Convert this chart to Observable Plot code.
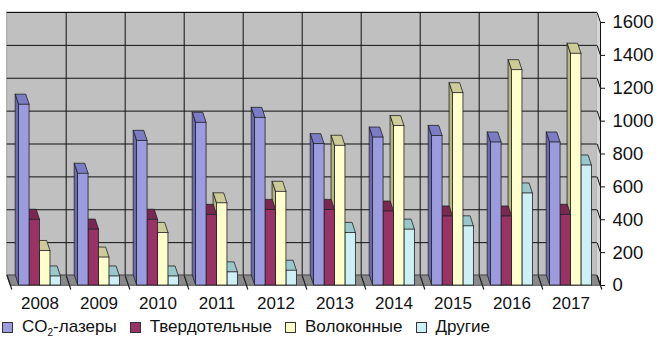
<!DOCTYPE html>
<html><head><meta charset="utf-8">
<script src="https://cdn.jsdelivr.net/npm/d3@7"></script>
<script src="https://cdn.jsdelivr.net/npm/@observablehq/plot@0.6"></script>
<style>
body{margin:0;background:#fff;font-family:"Liberation Sans",Arial,sans-serif;}
#legend{display:flex;align-items:center;height:22px;font-size:17px;color:#111;padding-left:2px;}
.item{display:flex;align-items:center;margin-right:13px;white-space:nowrap}
.sw{width:9px;height:9px;border:1px solid #333;margin-right:9px}
sub{font-size:10px;vertical-align:-4px;line-height:0}
</style></head><body><div id="chart"></div><div id="legend"></div>
<script>
const years = ["2008","2009","2010","2011","2012","2013","2014","2015","2016","2017"];
const co2   = [1100, 680, 880, 990, 1020, 860, 900, 910, 870, 870];
const solid = [400, 340, 400, 430, 460, 460, 450, 420, 420, 430];
const fiber = [210, 170, 320, 500, 570, 850, 970, 1170, 1310, 1410];
const other = [55, 55, 55, 80, 90, 320, 340, 360, 560, 730];
const seriesNames = ["CO₂-лазеры", "Твердотельные", "Волоконные", "Другие"];
const yTicks = [0, 200, 400, 600, 800, 1000, 1200, 1400, 1600];

const frontColors = ["#9b9be0", "#993366", "#ffffcc", "#ccf0f6"];
const capColors   = ["#7c7cc6", "#7a2850", "#cccc99", "#99c8cc"];
const sideColors  = ["#6a6ab0", "#6a2045", "#b5b585", "#86b2b6"];

const W = 661, H = 316, mL = 10, mR = 61, mT = 22, mB = 31;
const yMax = 1600;
const nCat = years.length;
const dX = 3.3 * nCat / (W - mL - mR);      // depth offset (x units)
const dY = 10 * yMax / (H - mT - mB);       // depth offset (y units)
const GROUP_PAD = 0.146, BAR_W = 0.177;

const series = [co2, solid, fiber, other];
const bars = [];
years.forEach((yr, i) => series.forEach((vals, s) => {
  const x0 = i + GROUP_PAD + s * BAR_W;
  bars.push({id: i + "-" + s, s, v: vals[i], x0, x1: x0 + BAR_W});
}));
bars.reverse();
const sidePts = bars.flatMap(b => [
  {id: b.id, s: b.s, x: b.x0 - dX, y1: dY, y2: b.v + dY},
  {id: b.id, s: b.s, x: b.x0, y1: 0, y2: b.v}
]);
const capPts = bars.flatMap(b => [
  {id: b.id, s: b.s, y: b.v, x1: b.x0, x2: b.x1},
  {id: b.id, s: b.s, y: b.v + dY, x1: b.x0 - dX, x2: b.x1 - dX}
]);

const cats = d3.range(nCat);
const chart = Plot.plot({
  width: W, height: H,
  marginLeft: mL, marginRight: mR, marginTop: mT, marginBottom: mB,
  x: {domain: [0, nCat]},
  y: {domain: [0, yMax]},
  color: {type: "identity"},
  style: {background: "#fff", color: "#111"},
  marks: [
    // back wall
    Plot.rect([0], {x1: -dX, x2: nCat - dX, y1: dY, y2: yMax + dY, fill: "#c0c0c0", stroke: "#a0a0a0"}),
    // right side wall
    Plot.areaY([{x: nCat - dX, y1: dY, y2: yMax + dY}, {x: nCat, y1: 0, y2: yMax}],
      {x: "x", y1: "y1", y2: "y2", fill: "#d6d6d6"}),
    Plot.ruleY(yTicks, {y: t => t + dY, x1: -dX, x2: nCat - dX, stroke: "#111", strokeWidth: 1}),
    Plot.ruleX(d3.range(1, nCat), {x: i => i - dX, y1: dY, y2: yMax + dY, stroke: "#111", strokeWidth: 1}),
    Plot.link(yTicks, {x1: nCat - dX, y1: t => t + dY, x2: nCat, y2: t => t, stroke: "#111"}),
    // floor
    Plot.areaX([{y: 0, x1: 0, x2: nCat}, {y: dY, x1: -dX, x2: nCat - dX}],
      {y: "y", x1: "x1", x2: "x2", fill: "#8a8a8a", stroke: "#333", strokeWidth: 0.8}),
    Plot.link(d3.range(0, nCat + 1), {x1: i => i - dX, y1: dY, x2: i => i + dX * 0.4, y2: -dY * 0.4, stroke: "#222", strokeWidth: 1.2}),
    // bars
    Plot.areaY(sidePts, {x: "x", y1: "y1", y2: "y2", z: "id", fill: d => sideColors[d.s], stroke: "#222", strokeWidth: 0.8}),
    Plot.areaX(capPts, {y: "y", x1: "x1", x2: "x2", z: "id", fill: d => capColors[d.s], stroke: "#222", strokeWidth: 0.8}),
    Plot.rect(bars, {x1: "x0", x2: "x1", y1: 0, y2: "v", fill: d => frontColors[d.s], stroke: "#222", strokeWidth: 0.8}),
    // front axis line
    Plot.ruleX([nCat], {y1: 0, y2: yMax, stroke: "#111"}),
    Plot.axisY(yTicks, {anchor: "right", tickSize: 4, tickPadding: 8, fontSize: 18.5,
      fontFamily: "'Liberation Sans', Arial, sans-serif", tickFormat: d => String(d), label: null}),
    Plot.axisX(cats.map(i => i + 0.5), {anchor: "bottom", tickSize: 0, tickPadding: 11, fontSize: 17,
      fontFamily: "'Liberation Sans', Arial, sans-serif",
      tickFormat: d => years[Math.floor(d)], label: null})
  ]
});
document.getElementById("chart").appendChild(chart);

const legend = document.getElementById("legend");
seriesNames.forEach((name, s) => {
  const item = document.createElement("div");
  item.className = "item";
  const sw = document.createElement("span");
  sw.className = "sw";
  sw.style.background = frontColors[s];
  const lab = document.createElement("span");
  lab.innerHTML = name.replace("₂", "<sub>2</sub>");
  item.appendChild(sw); item.appendChild(lab);
  legend.appendChild(item);
});
</script>
</body></html>
